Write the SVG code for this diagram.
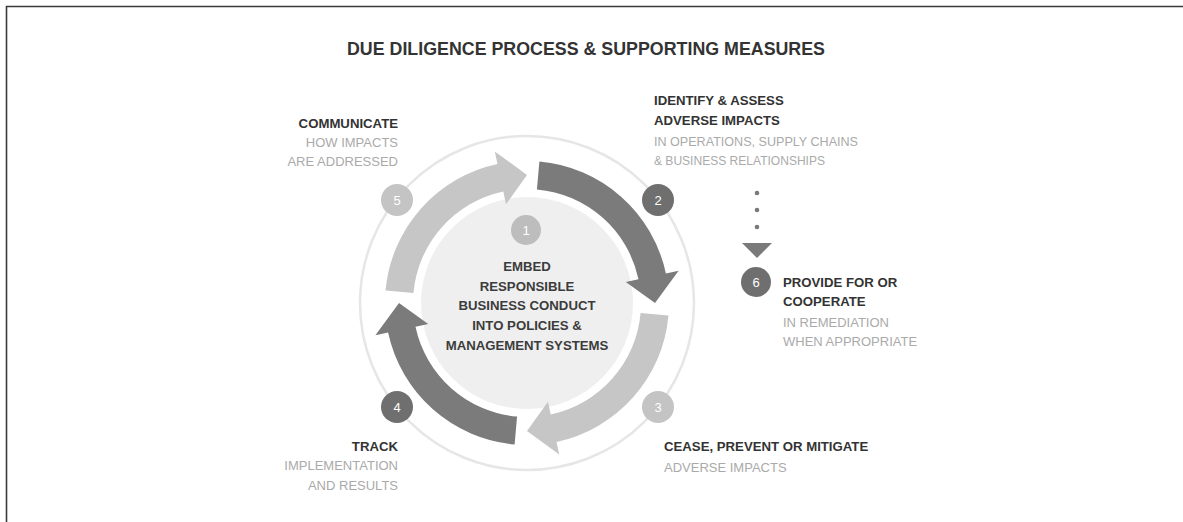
<svg xmlns="http://www.w3.org/2000/svg" width="1183" height="522" viewBox="0 0 1183 522">
<style>
.frame{fill:none;stroke:#3a3a3a;stroke-width:1.6}
.title{font-family:"Liberation Sans",Arial,sans-serif;font-weight:bold;font-size:17.5px;fill:#333}
.hd{font-family:"Liberation Sans",Arial,sans-serif;font-weight:bold;font-size:13.2px;fill:#333}
.lt{font-family:"Liberation Sans",Arial,sans-serif;font-size:13px;fill:#aaa}
.ctr{font-family:"Liberation Sans",Arial,sans-serif;font-weight:bold;font-size:13.2px;fill:#3c3c3c;text-anchor:middle}
.num{font-family:"Liberation Sans",Arial,sans-serif;font-size:13px;fill:#fff;text-anchor:middle}
.dark{fill:#7b7b7b}
.light{fill:#c6c6c6}
.bdark{fill:#6f6f6f}
.blight{fill:#c4c4c4}
.end{text-anchor:end}
</style>
<defs>
<path id="arc-arrow" d="M539.38,161.54 A142,142 0 0 1 665.89,273.48 L678.61,270.78 L655,303 L625.79,282 L638.5,279.3 A114,114 0 0 0 536.94,189.43 Z"/>
</defs>
<rect width="1183" height="522" fill="#fff"/>
<path class="frame" d="M6.5,522 V6.5 H1183"/>
<text class="title" x="347" y="55" textLength="478" lengthAdjust="spacingAndGlyphs">DUE DILIGENCE PROCESS &amp; SUPPORTING MEASURES</text>

<circle cx="527" cy="303" r="167" fill="none" stroke="#e6e6e6" stroke-width="2.5"/>

<g id="step1">
<circle cx="527" cy="303" r="106" fill="#efefef"/>
<circle class="blight" cx="526" cy="230" r="15" style="fill:#bdbdbd"/>
<text class="num" x="526" y="235">1</text>
<text class="ctr" x="527" y="271">EMBED</text>
<text class="ctr" x="527" y="291">RESPONSIBLE</text>
<text class="ctr" x="527" y="310">BUSINESS CONDUCT</text>
<text class="ctr" x="527" y="330">INTO POLICIES &amp;</text>
<text class="ctr" x="527" y="350">MANAGEMENT SYSTEMS</text>
</g>

<g id="connectors">
<use href="#arc-arrow" class="dark"/>
<use href="#arc-arrow" class="light" transform="rotate(90 527 303)"/>
<use href="#arc-arrow" class="dark" transform="rotate(180 527 303)"/>
<use href="#arc-arrow" class="light" transform="rotate(270 527 303)"/>
<g fill="#7a7a7a">
<circle cx="757" cy="193" r="2.3"/>
<circle cx="757" cy="210" r="2.3"/>
<circle cx="757" cy="227" r="2.3"/>
<polygon points="742,243 772,243 757,258"/>
</g>
</g>

<g id="step2">
<circle class="bdark" cx="658" cy="200" r="16"/>
<text class="num" x="658" y="205">2</text>
<text class="hd" x="654" y="105">IDENTIFY &amp; ASSESS</text>
<text class="hd" x="654" y="125">ADVERSE IMPACTS</text>
<text class="lt" x="654" y="146" textLength="204" lengthAdjust="spacingAndGlyphs">IN OPERATIONS, SUPPLY CHAINS</text>
<text class="lt" x="654" y="165" textLength="171" lengthAdjust="spacingAndGlyphs">&amp; BUSINESS RELATIONSHIPS</text>
</g>

<g id="step3">
<circle class="blight" cx="658" cy="407" r="16"/>
<text class="num" x="658" y="412">3</text>
<text class="hd" x="664" y="451">CEASE, PREVENT OR MITIGATE</text>
<text class="lt" x="664" y="472">ADVERSE IMPACTS</text>
</g>

<g id="step4">
<circle class="bdark" cx="397" cy="407" r="16"/>
<text class="num" x="397" y="412">4</text>
<text class="hd end" x="398" y="451">TRACK</text>
<text class="lt end" x="398" y="470">IMPLEMENTATION</text>
<text class="lt end" x="398" y="490">AND RESULTS</text>
</g>

<g id="step5">
<circle class="blight" cx="397" cy="200" r="16"/>
<text class="num" x="397" y="205">5</text>
<text class="hd end" x="398" y="128">COMMUNICATE</text>
<text class="lt end" x="398" y="147">HOW IMPACTS</text>
<text class="lt end" x="398" y="166">ARE ADDRESSED</text>
</g>

<g id="step6">
<circle class="bdark" cx="756" cy="282" r="15"/>
<text class="num" x="756" y="287">6</text>
<text class="hd" x="783" y="287">PROVIDE FOR OR</text>
<text class="hd" x="783" y="306">COOPERATE</text>
<text class="lt" x="783" y="327">IN REMEDIATION</text>
<text class="lt" x="783" y="346">WHEN APPROPRIATE</text>
</g>
</svg>
